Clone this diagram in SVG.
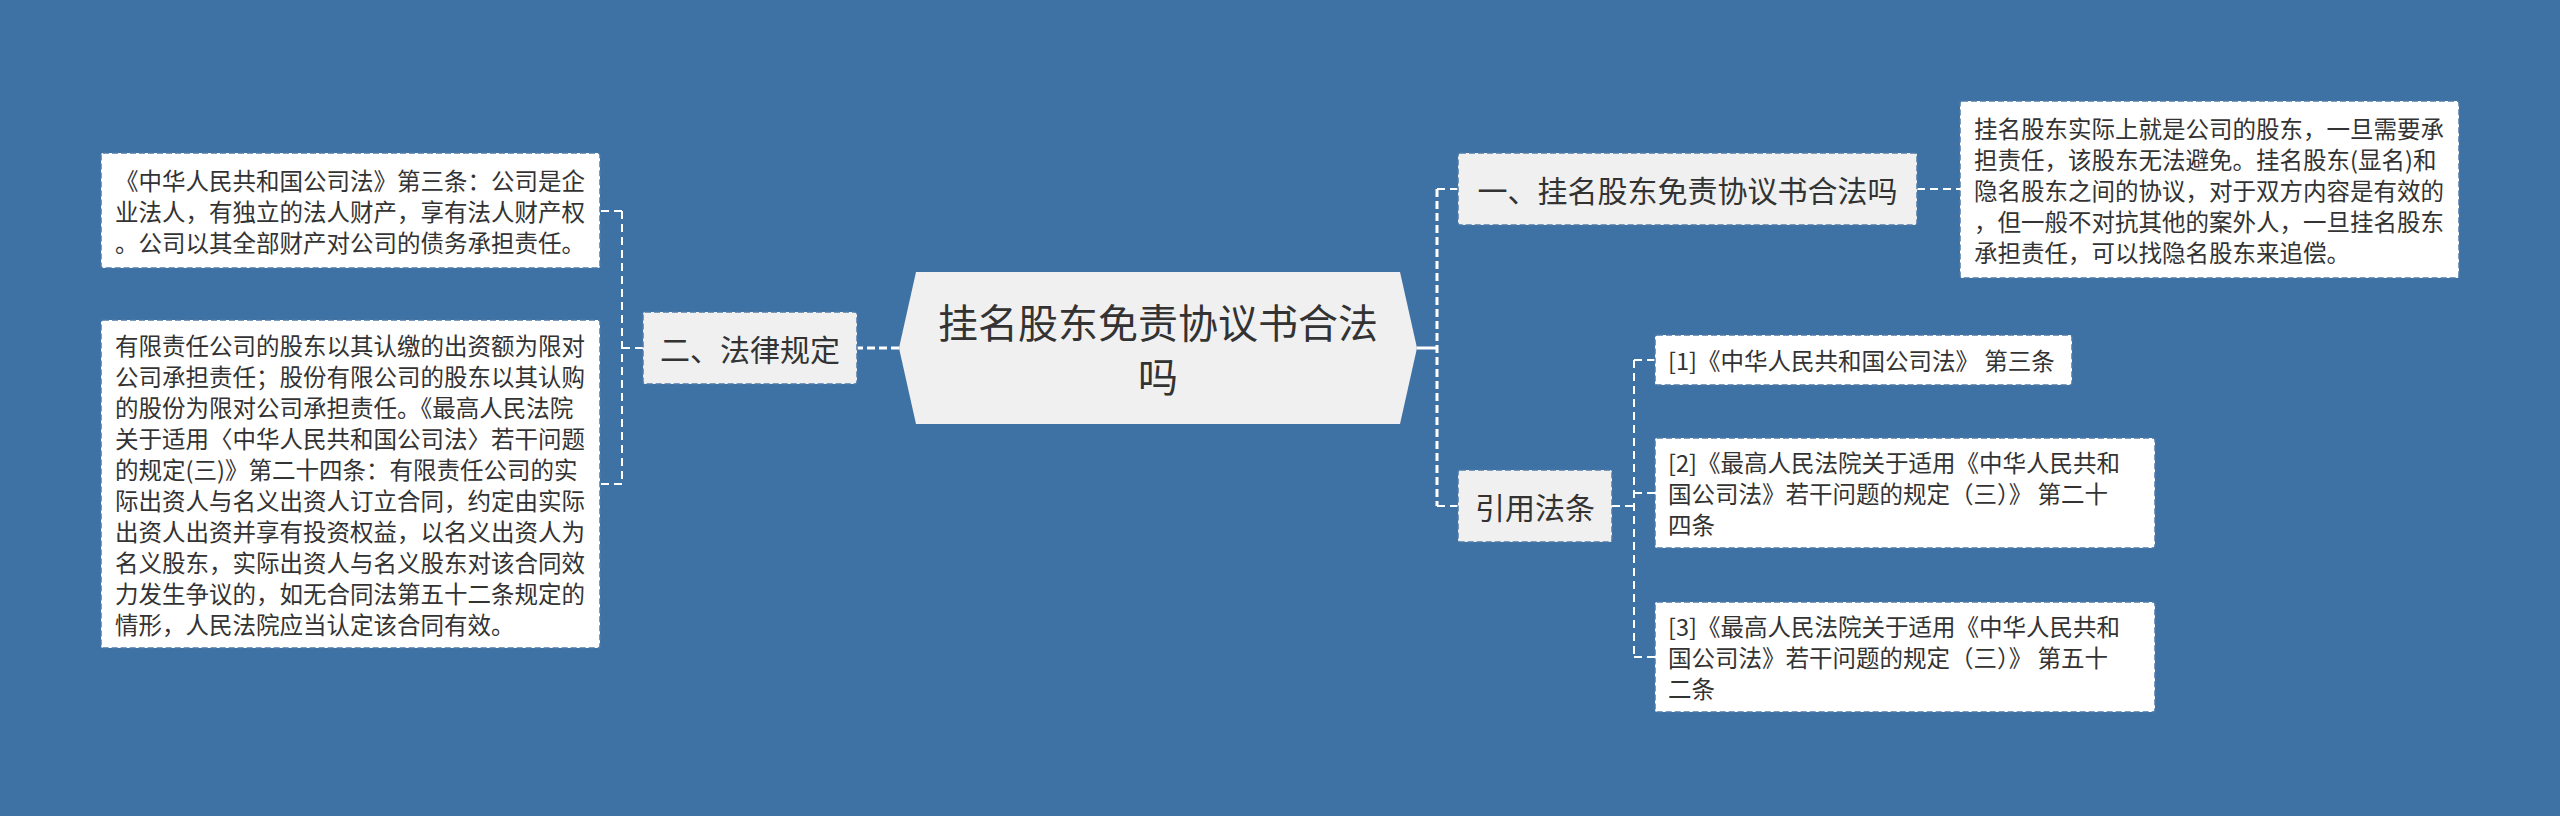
<svg xmlns="http://www.w3.org/2000/svg" width="2560" height="816" viewBox="0 0 2560 816">
<style>
text{font-family:"Noto Sans CJK SC","Microsoft YaHei","Liberation Sans",sans-serif;fill:#333333;dominant-baseline:central}
.l2 rect{fill:#f0f0f0;stroke:#4d79a6;stroke-width:1.5;stroke-dasharray:6 3}
.leaf rect{fill:#ffffff;stroke:#4d79a6;stroke-width:1.5;stroke-dasharray:6 3}
.l2 text{font-size:30px;text-anchor:middle}
.leaf text{font-size:23.5px}
.root text{font-size:40px;text-anchor:middle}
.c1{stroke:#ffffff;stroke-width:3;fill:none}
.c1d{stroke:#ffffff;stroke-width:3;fill:none;stroke-dasharray:8 4}
.c2{stroke:#ffffff;stroke-width:2;fill:none;stroke-dasharray:8 5}
</style>
<rect x="0" y="0" width="2560" height="816" fill="#3e72a4"/>
<g id="connectors">
<path class="c1d" d="M899,348 H857" stroke-dasharray="30 5"/>
<path class="c1" d="M1417,348 H1437"/>
<path class="c1d" d="M1437,189 V506"/>
<path class="c2" d="M1437,189 H1458 M1437,506 H1458"/>
<path class="c2" d="M643,348 H622 M622,211 V484 M622,211 H600 M622,484 H600"/>
<path class="c2" d="M1917,189 H1960"/>
<path class="c2" d="M1612,506 H1634 M1634,360 V657 M1634,360 H1655 M1634,493 H1655 M1634,657 H1655"/>
</g>
<g id="root" class="root">
<polygon points="899,348 916,272 1400,272 1417,348 1400,424 916,424" fill="#f0f0f0"/>
<text x="1158" y="321">挂名股东免责协议书合法</text>
<text x="1158" y="375">吗</text>
</g>
<g id="n1" class="l2">
<rect x="1458" y="153" width="459" height="72" rx="2"/>
<text x="1687.5" y="189">一、挂名股东免责协议书合法吗</text>
</g>
<g id="n2" class="l2">
<rect x="643" y="312" width="214" height="72" rx="2"/>
<text x="750" y="348">二、法律规定</text>
</g>
<g id="n3" class="l2">
<rect x="1458" y="470" width="154" height="72" rx="2"/>
<text x="1535" y="506">引用法条</text>
</g>
<g id="n1a" class="leaf">
<rect x="1960" y="101" width="499" height="177" rx="2"/>
<text x="1974" y="127.5">挂名股东实际上就是公司的股东，一旦需要承</text>
<text x="1974" y="158.5">担责任，该股东无法避免。挂名股东(显名)和</text>
<text x="1974" y="189.5">隐名股东之间的协议，对于双方内容是有效的</text>
<text x="1974" y="220.5">，但一般不对抗其他的案外人，一旦挂名股东</text>
<text x="1974" y="251.5">承担责任，可以找隐名股东来追偿。</text>
</g>
<g id="n2a" class="leaf">
<rect x="101" y="153" width="499" height="115" rx="2"/>
<text x="115" y="179.5">《中华人民共和国公司法》第三条：公司是企</text>
<text x="115" y="210.5">业法人，有独立的法人财产，享有法人财产权</text>
<text x="115" y="241.5">。公司以其全部财产对公司的债务承担责任。</text>
</g>
<g id="n2b" class="leaf">
<rect x="101" y="320" width="499" height="328" rx="2"/>
<text x="115" y="344.5">有限责任公司的股东以其认缴的出资额为限对</text>
<text x="115" y="375.5">公司承担责任；股份有限公司的股东以其认购</text>
<text x="115" y="406.5">的股份为限对公司承担责任。《最高人民法院</text>
<text x="115" y="437.5">关于适用〈中华人民共和国公司法〉若干问题</text>
<text x="115" y="468.5">的规定(三)》第二十四条：有限责任公司的实</text>
<text x="115" y="499.5">际出资人与名义出资人订立合同，约定由实际</text>
<text x="115" y="530.5">出资人出资并享有投资权益，以名义出资人为</text>
<text x="115" y="561.5">名义股东，实际出资人与名义股东对该合同效</text>
<text x="115" y="592.5">力发生争议的，如无合同法第五十二条规定的</text>
<text x="115" y="623.5">情形，人民法院应当认定该合同有效。</text>
</g>
<g id="n3a" class="leaf">
<rect x="1655" y="335" width="417" height="50" rx="2"/>
<text x="1668" y="360">[1]《中华人民共和国公司法》 第三条</text>
</g>
<g id="n3b" class="leaf">
<rect x="1655" y="438" width="500" height="110" rx="2"/>
<text x="1668" y="462">[2]《最高人民法院关于适用《中华人民共和</text>
<text x="1668" y="493">国公司法》若干问题的规定（三）》 第二十</text>
<text x="1668" y="524">四条</text>
</g>
<g id="n3c" class="leaf">
<rect x="1655" y="602" width="500" height="110" rx="2"/>
<text x="1668" y="626">[3]《最高人民法院关于适用《中华人民共和</text>
<text x="1668" y="657">国公司法》若干问题的规定（三）》 第五十</text>
<text x="1668" y="688">二条</text>
</g>
</svg>
